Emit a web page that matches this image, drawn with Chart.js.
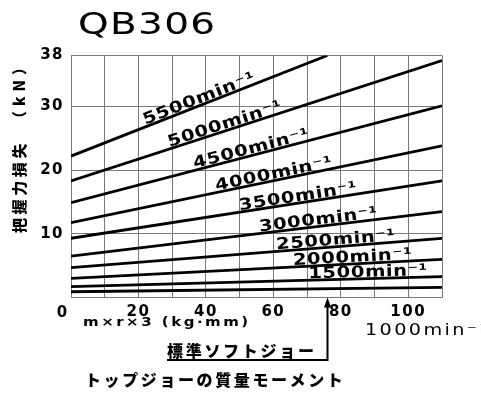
<!DOCTYPE html>
<html><head><meta charset="utf-8">
<script src="https://cdn.jsdelivr.net/npm/chart.js@4"></script>
<style>html,body{margin:0;padding:0;background:#fff}</style>
</head><body>
<canvas id="c" width="481" height="394"></canvas>
<script>
// ---- data ----
const speedLabels = ['1000min⁻¹','1500min⁻¹','2000min⁻¹','2500min⁻¹','3000min⁻¹','3500min⁻¹','4000min⁻¹','4500min⁻¹','5000min⁻¹','5500min⁻¹'];
const lossAtZero  = [0.9, 1.7, 3.0, 4.7, 6.5, 9.3, 11.75, 14.9, 18.3, 22.2];
const endMoment   = [110, 110, 110, 110, 110, 110, 110, 110, 110, 76];
const lossAtEnd   = [1.6, 3.27, 6.0, 9.3, 13.5, 18.3, 23.8, 30.1, 37.2, 38];
const xTickValues = [0,10,20,30,40,50,60,70,80,90,100,110];
const xTickLabelled = [20,40,60,80,100];
const yTickValues = [0,10,20,30,38];
const standardJawMoment = 76;
const labelAtMoment = [null, 70.4, 65.9, 61, 56, 50.1, 43.2, 36.8, 29.4, 22.2];

const FONT = '"DejaVu Sans", "Noto Sans", sans-serif';
const JFONT = '"Noto Sans CJK JP", "Noto Sans", sans-serif';

const datasets = speedLabels.map((lab, i) => ({
  label: lab,
  data: [{x: 0, y: lossAtZero[i]}, {x: endMoment[i], y: lossAtEnd[i]}],
  borderColor: '#000', borderWidth: 2.8, pointRadius: 0, fill: false, tension: 0
}));

function txt(ctx, s, x, y, font, spacing, opts = {}) {
  ctx.save();
  ctx.font = font;
  ctx.fillStyle = '#000';
  ctx.letterSpacing = (spacing || 0) + 'px';
  ctx.textAlign = opts.align || 'left';
  ctx.textBaseline = opts.baseline || 'alphabetic';
  ctx.translate(x, y);
  if (opts.rotate) ctx.rotate(opts.rotate);
  if (opts.scaleX) ctx.scale(opts.scaleX, 1);
  ctx.fillText(s, 0, 0);
  ctx.restore();
}

const spacingHack = {
  id: 'spacingHack',
  beforeDraw(chart) { chart.ctx.letterSpacing = '1.5px'; },
  beforeDatasetsDraw(chart) { chart.ctx.letterSpacing = '0px'; }
};

const annotations = {
  id: 'annotations',
  afterDatasetsDraw(chart) {
    const ctx = chart.ctx, xs = chart.scales.x, ys = chart.scales.y;
    speedLabels.forEach((lab, i) => {
      const at = labelAtMoment[i];
      if (at == null) return;
      const x0 = xs.getPixelForValue(0), y0 = ys.getPixelForValue(lossAtZero[i]);
      const x1 = xs.getPixelForValue(endMoment[i]), y1 = ys.getPixelForValue(lossAtEnd[i]);
      const ang = Math.atan2(y1 - y0, x1 - x0);
      const v = lossAtZero[i] + (lossAtEnd[i] - lossAtZero[i]) * at / endMoment[i];
      const px = xs.getPixelForValue(at), py = ys.getPixelForValue(v);
      ctx.save();
      ctx.translate(px, py);
      ctx.rotate(ang);
      ctx.scale(1.22, 1);
      ctx.font = 'bold 16px ' + FONT;
      ctx.letterSpacing = '0.5px';
      ctx.fillStyle = '#000';
      ctx.textAlign = 'left';
      ctx.textBaseline = 'alphabetic';
      ctx.fillText(lab, 0, -2);
      ctx.restore();
    });
  },
  afterDraw(chart) {
    const ctx = chart.ctx, xs = chart.scales.x, ys = chart.scales.y;
    txt(ctx, 'QB306', 78, 34, '30px ' + FONT, 1, {scaleX: 1.3});
    txt(ctx, '把握力損失', 19, 233, '900 15px ' + JFONT, 3.6, {rotate: -Math.PI / 2, baseline: 'middle'});
    txt(ctx, '（kN）', 19, 126, '900 15px ' + JFONT, 5, {rotate: -Math.PI / 2, baseline: 'middle'});
    txt(ctx, '0', 62, 313, 'bold 15px ' + FONT, 0, {align: 'center', baseline: 'middle'});
    txt(ctx, 'm×r×3 (kg·mm)', 83, 326, 'bold 12px ' + FONT, 2, {scaleX: 1.25});
    txt(ctx, speedLabels[0], 365, 335, '16px ' + FONT, 2, {scaleX: 1.2});
    txt(ctx, '標準ソフトジョー', 167, 351, '900 16px ' + JFONT, 2.7, {baseline: 'middle'});
    txt(ctx, 'トップジョーの質量モーメント', 85, 380, '900 16px ' + JFONT, 2.6, {baseline: 'middle'});
    const ax = Math.round(xs.getPixelForValue(standardJawMoment)) + 0.5;
    const base = ys.getPixelForValue(0);
    ctx.save();
    ctx.strokeStyle = '#000';
    ctx.fillStyle = '#000';
    ctx.lineWidth = 2;
    ctx.beginPath();
    ctx.moveTo(167, 360);
    ctx.lineTo(ax, 360);
    ctx.lineTo(ax, base + 8);
    ctx.stroke();
    ctx.beginPath();
    ctx.moveTo(ax, base);
    ctx.lineTo(ax - 3.5, base + 10);
    ctx.lineTo(ax + 3.5, base + 10);
    ctx.closePath();
    ctx.fill();
    ctx.restore();
  }
};

new Chart(document.getElementById('c'), {
  type: 'line',
  data: { datasets },
  options: {
    responsive: false,
    devicePixelRatio: 1,
    animation: false,
    layout: { padding: { left: 0, right: 39, top: 55.5, bottom: 0 } },
    plugins: { legend: { display: false }, tooltip: { enabled: false }, title: { display: false } },
    scales: {
      x: {
        type: 'linear', min: 0, max: 110,
        afterBuildTicks: s => { s.ticks = xTickValues.map(v => ({ value: v })); },
        afterFit: s => { s.height = 96.5; },
        ticks: {
          callback: v => xTickLabelled.includes(v) ? String(v) : '',
          font: { family: FONT, size: 15, weight: 'bold' }, color: '#000',
          padding: 6, maxRotation: 0, autoSkip: false
        },
        grid: { color: '#7a7a7a', lineWidth: 1, drawTicks: false },
        border: { color: '#7a7a7a', width: 1 }
      },
      y: {
        type: 'linear', min: 0, max: 38,
        afterBuildTicks: s => { s.ticks = yTickValues.map(v => ({ value: v })); },
        afterFit: s => { s.width = 71; },
        ticks: {
          callback: v => v === 0 ? '' : String(v),
          font: { family: FONT, size: 15, weight: 'bold' }, color: '#000',
          padding: 7, autoSkip: false
        },
        grid: { color: '#7a7a7a', lineWidth: 1, drawTicks: false },
        border: { color: '#7a7a7a', width: 1 }
      }
    }
  },
  plugins: [spacingHack, annotations]
});
</script>
</body></html>
